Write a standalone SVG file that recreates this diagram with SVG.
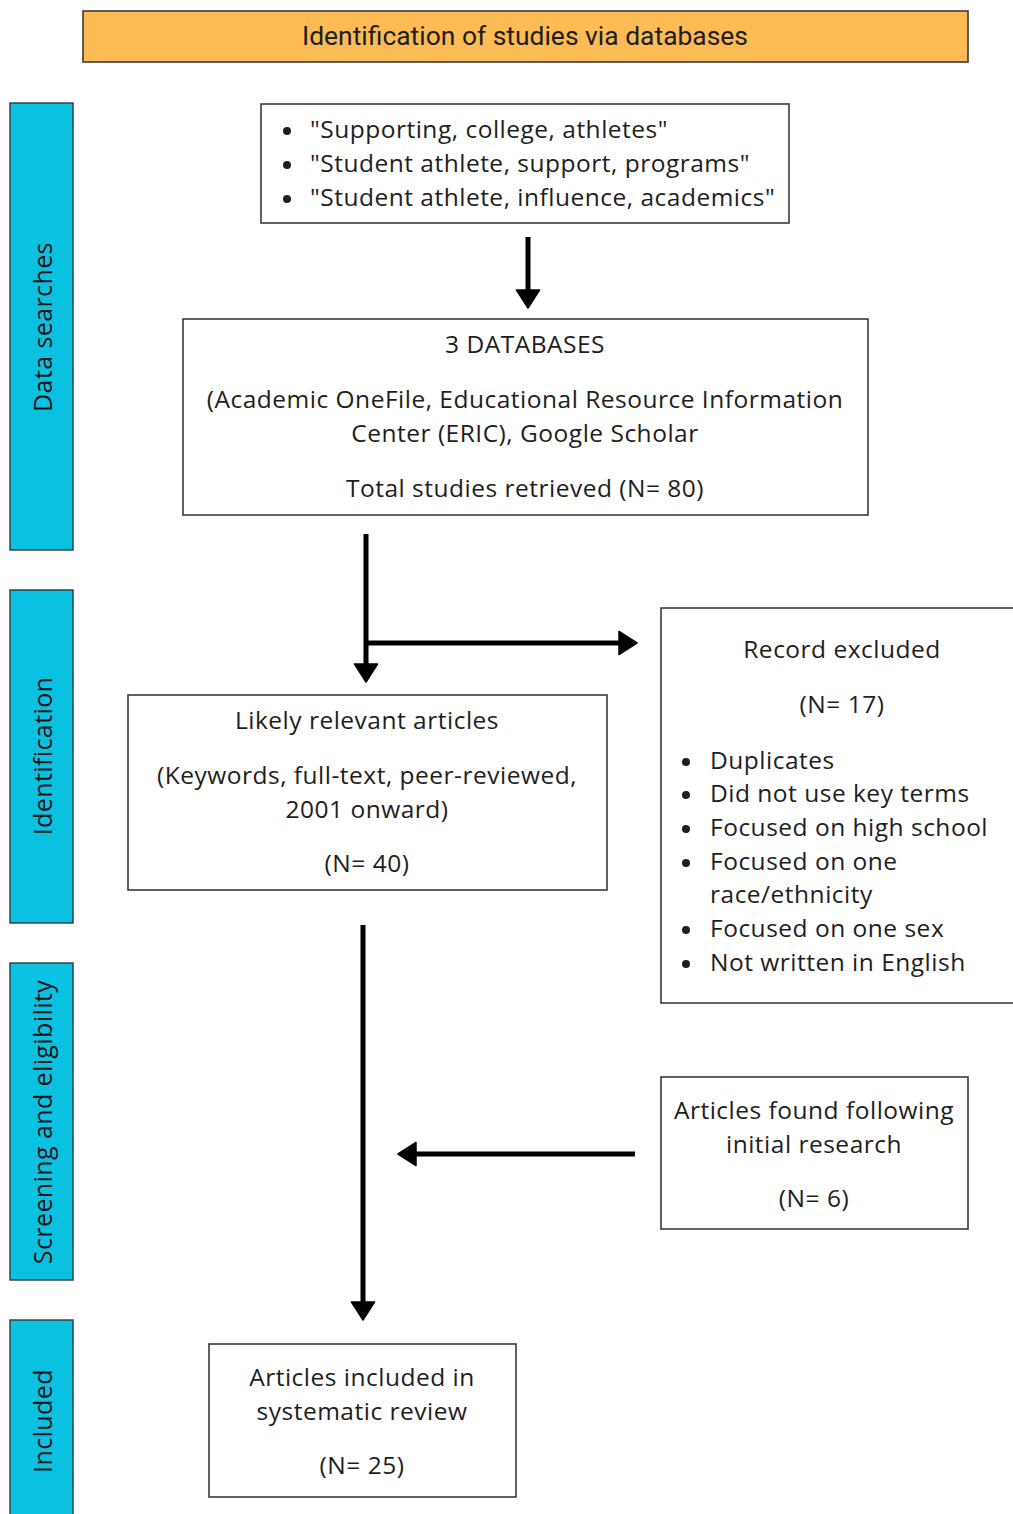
<svg xmlns="http://www.w3.org/2000/svg" width="1013" height="1514" viewBox="0 0 1013 1514">
<style>
  .box { fill: #ffffff; stroke: #3a3a3a; stroke-width: 1.6; }
  .bar { fill: #0bc1e1; stroke: #2a3a40; stroke-width: 1.4; }
  .t { font-family: "Open Sans", "Noto Sans", sans-serif; font-size: 24.5px; letter-spacing: 0.5px; fill: #1e1e1e; }
  .c { text-anchor: middle; }
  .side { font-family: "Open Sans", "Noto Sans", sans-serif; font-size: 25px; letter-spacing: 0.4px; fill: #141414; text-anchor: middle; dominant-baseline: central; }
  .conn { fill: none; stroke: #000; stroke-width: 5; }
</style>
<defs>
  <marker id="ah" markerUnits="userSpaceOnUse" markerWidth="20" markerHeight="26" viewBox="0 0 20 26" refX="9" refY="13" orient="auto">
    <path d="M1,1.5 L19,13 L1,24.5 z" fill="#000" stroke="#000" stroke-width="1.5" stroke-linejoin="round"/>
  </marker>
</defs>
<rect width="1013" height="1514" fill="#ffffff"/>

<g id="header">
  <rect x="83" y="11" width="885" height="51" fill="#fdbb56" stroke="#3a3a3a" stroke-width="1.6"/>
  <text x="525" y="45" font-family="Roboto, 'Open Sans', sans-serif" font-size="25" fill="#1e1e1e" text-anchor="middle" textLength="446" lengthAdjust="spacingAndGlyphs">Identification of studies via databases</text>
</g>

<g id="bar-data-searches">
  <rect class="bar" x="10" y="103" width="63" height="447"/>
  <text class="side" transform="translate(42,327) rotate(-90)">Data searches</text>
</g>
<g id="bar-identification">
  <rect class="bar" x="10" y="590" width="63" height="333"/>
  <text class="side" transform="translate(42,756) rotate(-90)">Identification</text>
</g>
<g id="bar-screening">
  <rect class="bar" x="10" y="963" width="63" height="317"/>
  <text class="side" transform="translate(42,1122) rotate(-90)">Screening and eligibility</text>
</g>
<g id="bar-included">
  <rect class="bar" x="10" y="1320" width="63" height="200"/>
  <text class="side" transform="translate(42,1421) rotate(-90)">Included</text>
</g>

<g id="search-terms">
  <rect class="box" x="261" y="104" width="528" height="119"/>
  <circle cx="287" cy="131" r="4" fill="#1e1e1e"/>
  <circle cx="287" cy="165" r="4" fill="#1e1e1e"/>
  <circle cx="287" cy="199" r="4" fill="#1e1e1e"/>
  <text class="t" x="310" y="138">"Supporting, college, athletes"</text>
  <text class="t" x="310" y="172">"Student athlete, support, programs"</text>
  <text class="t" x="310" y="206">"Student athlete, influence, academics"</text>
</g>

<g id="databases">
  <rect class="box" x="183" y="319" width="685" height="196"/>
  <text class="t c" x="525" y="353">3 DATABASES</text>
  <text class="t c" x="525" y="408">(Academic OneFile, Educational Resource Information</text>
  <text class="t c" x="525" y="442">Center (ERIC), Google Scholar</text>
  <text class="t c" x="525" y="497">Total studies retrieved (N= 80)</text>
</g>

<g id="likely-relevant">
  <rect class="box" x="128" y="695" width="479" height="195"/>
  <text class="t c" x="367" y="729">Likely relevant articles</text>
  <text class="t c" x="367" y="784">(Keywords, full-text, peer-reviewed,</text>
  <text class="t c" x="367" y="818">2001 onward)</text>
  <text class="t c" x="367" y="872">(N= 40)</text>
</g>

<g id="record-excluded">
  <rect class="box" x="661" y="608" width="360" height="395"/>
  <text class="t c" x="842" y="658">Record excluded</text>
  <text class="t c" x="842" y="713">(N= 17)</text>
  <circle cx="686" cy="762" r="4" fill="#1e1e1e"/>
  <circle cx="686" cy="795" r="4" fill="#1e1e1e"/>
  <circle cx="686" cy="829" r="4" fill="#1e1e1e"/>
  <circle cx="686" cy="863" r="4" fill="#1e1e1e"/>
  <circle cx="686" cy="930" r="4" fill="#1e1e1e"/>
  <circle cx="686" cy="964" r="4" fill="#1e1e1e"/>
  <text class="t" x="710" y="769">Duplicates</text>
  <text class="t" x="710" y="802">Did not use key terms</text>
  <text class="t" x="710" y="836">Focused on high school</text>
  <text class="t" x="710" y="870">Focused on one</text>
  <text class="t" x="710" y="903">race/ethnicity</text>
  <text class="t" x="710" y="937">Focused on one sex</text>
  <text class="t" x="710" y="971">Not written in English</text>
</g>

<g id="articles-found">
  <rect class="box" x="661" y="1077" width="307" height="152"/>
  <text class="t c" x="814" y="1119">Articles found following</text>
  <text class="t c" x="814" y="1153">initial research</text>
  <text class="t c" x="814" y="1207">(N= 6)</text>
</g>

<g id="articles-included">
  <rect class="box" x="209" y="1344" width="307" height="153"/>
  <text class="t c" x="362" y="1386">Articles included in</text>
  <text class="t c" x="362" y="1420">systematic review</text>
  <text class="t c" x="362" y="1474">(N= 25)</text>
</g>

<g id="connectors">
  <path class="conn" d="M528,237 L528,298" marker-end="url(#ah)"/>
  <path class="conn" d="M366,534 L366,672" marker-end="url(#ah)"/>
  <path class="conn" d="M366,643 L627,643" marker-end="url(#ah)"/>
  <path class="conn" d="M363,925 L363,1310" marker-end="url(#ah)"/>
  <path class="conn" d="M635,1154 L408,1154" marker-end="url(#ah)"/>
</g>
</svg>
